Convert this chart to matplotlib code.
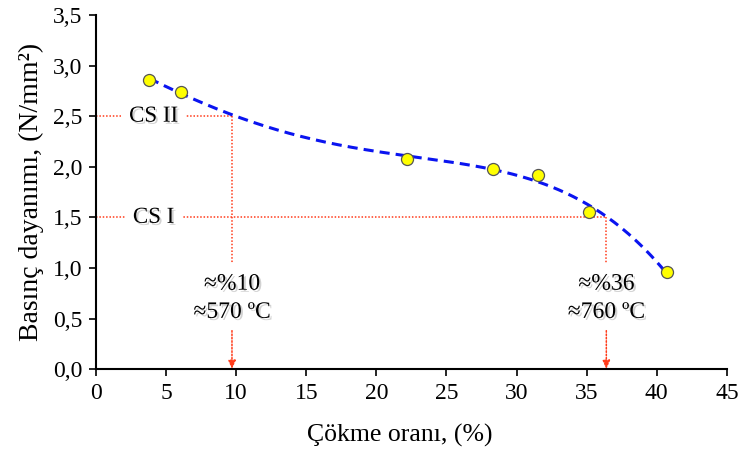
import numpy as np
import matplotlib
matplotlib.use("Agg")
import matplotlib.pyplot as plt
import matplotlib.patheffects as pe

plt.rcParams['font.family'] = ['Liberation Serif', 'DejaVu Serif']

# Measured points: settlement ratio (%) vs compressive strength (N/mm²)
settle = [3.8, 6.1, 22.2, 28.3, 31.5, 35.2, 40.7]
strength = [2.86, 2.74, 2.08, 1.98, 1.92, 1.55, 0.96]

# Strength classes and where the trend reaches them
class_names = ["CS II", "CS I"]
class_strength = [2.5, 1.5]
class_settle = [9.7, 36.4]
class_notes = ["≈%10\n≈570 ºC", "≈%36\n≈760 ºC"]

x_ticks = [0, 5, 10, 15, 20, 25, 30, 35, 40, 45]
y_ticks = [0.0, 0.5, 1.0, 1.5, 2.0, 2.5, 3.0, 3.5]

fig = plt.figure(figsize=(7.44, 4.54), dpi=100)
ax = fig.add_axes([0.129, 0.187, 0.848, 0.780])

red = "#FF3B1A"
shadow = [pe.SimplePatchShadow(offset=(1.5, -1.5), shadow_rgbFace="gray", alpha=0.35), pe.Normal()]

# 4th-order polynomial trend line through the measurements
coef = np.polyfit(settle, strength, 4)
xs = np.linspace(min(settle), max(settle), 300)
ax.plot(xs, np.polyval(coef, xs), color="#0A14F0", lw=2.2, ls=(0, (3.3, 2.0)), zorder=3)

ax.scatter(settle, strength, s=75, color="#FFFF00", edgecolor="#555555", lw=0.9, zorder=4)

for name, ys, xc, note in zip(class_names, class_strength, class_settle, class_notes):
    # horizontal guide from the axis to the curve
    ax.plot([0, xc], [ys, ys], ls=(0, (1, 1.2)), color=red, lw=1.1, zorder=2)
    ax.text(4.1, ys, name, ha="center", va="center", fontsize=16.5,
            bbox=dict(facecolor="white", edgecolor="none", pad=6),
            path_effects=shadow, zorder=3)
    # vertical guide from the curve down to the axis, broken by the note
    ax.plot([xc, xc], [ys, 1.05], ls=(0, (1, 1.2)), color=red, lw=1.1, zorder=2)
    ax.annotate("", xy=(xc, 0.0), xytext=(xc, 0.38),
                arrowprops=dict(arrowstyle="-|>,head_length=0.5,head_width=0.22",
                                color=red, lw=1.1, ls=(0, (1, 1.2)),
                                shrinkA=0, shrinkB=0), zorder=2)
    ax.text(xc, 0.70, note, ha="center", va="center", fontsize=17,
            linespacing=1.45, path_effects=shadow, zorder=3)

ax.set_xlim(0, 45)
ax.set_ylim(0, 3.5)
ax.set_xticks(x_ticks)
ax.set_xticklabels([str(t) for t in x_ticks])
ax.set_yticks(y_ticks)
ax.set_yticklabels([f"{t:.1f}".replace(".", ",") for t in y_ticks])
ax.tick_params(axis="both", direction="out", length=5, width=1.2, labelsize=17, pad=5)
for side in ("top", "right"):
    ax.spines[side].set_visible(False)
for side in ("left", "bottom"):
    ax.spines[side].set_linewidth(1.5)

ax.set_xlabel("Çökme oranı, (%)", fontsize=18.5)
ax.xaxis.set_label_coords(0.482, -0.155)
ax.set_ylabel("Basınç dayanımı, (N/mm²)", fontsize=20, labelpad=6)

fig.savefig("out.png", dpi=100)
